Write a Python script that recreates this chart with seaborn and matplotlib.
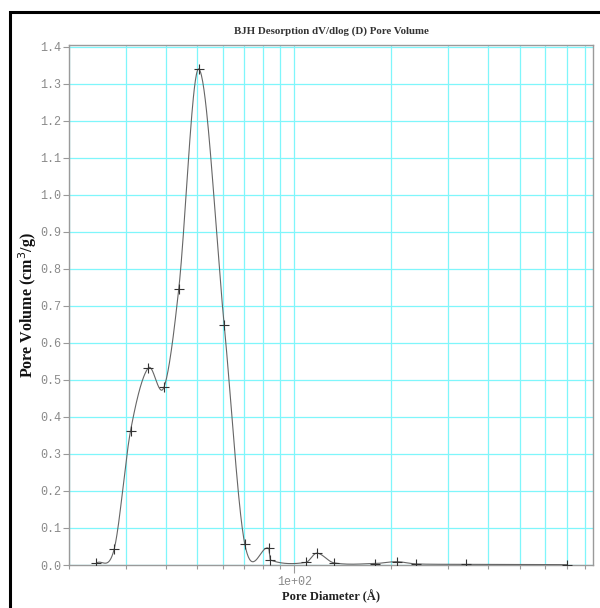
import numpy as np
import pandas as pd
import matplotlib
matplotlib.use("Agg")
import matplotlib.pyplot as plt
from matplotlib.ticker import LogLocator, FixedLocator, FuncFormatter, NullFormatter
from matplotlib.patches import Rectangle
import seaborn as sns

# pore diameter (A) and dV/dlog(D) pore volume (cm3/g)
pore_diameter = [24.3, 27.6, 31.05, 35.2, 39.4, 43.8, 50.6, 60.6, 70.2, 83.3,
                 84.3, 108.6, 117.5, 132.6, 177.8, 207.7, 238.4, 340.9, 702.0]
pore_volume = [0.005, 0.042, 0.363, 0.532, 0.480, 0.745, 1.340, 0.649, 0.057, 0.045,
               0.0135, 0.007, 0.032, 0.006, 0.004, 0.009, 0.003, 0.002, 0.001]

y_ticks = [0.0, 0.1, 0.2, 0.3, 0.4, 0.5, 0.6, 0.7, 0.8, 0.9, 1.0, 1.1, 1.2, 1.3, 1.4]

GRID_COLOR = "#7ff6fb"
AXIS_GRAY = "#9a9a9a"
LABEL_GRAY = "#8a8a8a"


def smooth_curve(x, y, n=40):
    # cubic hermite curve (catmull-rom style tangents) in log10(x)
    u = np.log10(np.asarray(x, dtype=float))
    y = np.asarray(y, dtype=float)
    m = np.empty_like(y)
    m[0] = (y[1] - y[0]) / (u[1] - u[0])
    m[-1] = (y[-1] - y[-2]) / (u[-1] - u[-2])
    m[1:-1] = (y[2:] - y[:-2]) / (u[2:] - u[:-2])
    us, ys = [], []
    for i in range(len(u) - 1):
        h = u[i + 1] - u[i]
        t = np.linspace(0, 1, n, endpoint=(i == len(u) - 2))
        h00 = 2 * t**3 - 3 * t**2 + 1
        h10 = t**3 - 2 * t**2 + t
        h01 = -2 * t**3 + 3 * t**2
        h11 = t**3 - t**2
        us.append(u[i] + t * h)
        ys.append(h00 * y[i] + h10 * h * m[i] + h01 * y[i + 1] + h11 * h * m[i + 1])
    return 10 ** np.concatenate(us), np.concatenate(ys)


df = pd.DataFrame({"Pore Diameter": pore_diameter, "Pore Volume": pore_volume})
cx, cy = smooth_curve(pore_diameter, pore_volume)
curve = pd.DataFrame({"Pore Diameter": cx, "Pore Volume": cy})

sns.set_style("white")
plt.rcParams["font.family"] = ["Liberation Serif", "DejaVu Serif"]

fig = plt.figure(figsize=(6.0, 6.08), dpi=100)
ax = fig.add_axes([69 / 600, 1 - 565 / 608, 524 / 600, 520 / 608])

sns.lineplot(data=curve, x="Pore Diameter", y="Pore Volume", ax=ax, sort=False,
             estimator=None, color="#666666", linewidth=0.8, zorder=3)
sns.scatterplot(data=df, x="Pore Diameter", y="Pore Volume", ax=ax, marker="+",
                s=45, color="#333333", linewidth=0.8, zorder=4)

ax.set_xscale("log")
ax.set_xlim(20, 845)
ax.set_ylim(0, 1.405)

# x axis: only 1e+02 labelled, minor lines for the rest
ax.xaxis.set_major_locator(LogLocator(base=10))
ax.xaxis.set_major_formatter(FuncFormatter(lambda v, p: "%.0e" % v))
ax.xaxis.set_minor_locator(LogLocator(base=10, subs=np.arange(2, 10)))
ax.xaxis.set_minor_formatter(NullFormatter())
ax.yaxis.set_major_locator(FixedLocator(y_ticks))
ax.yaxis.set_major_formatter(FuncFormatter(lambda v, p: "%.1f" % v))

ax.grid(True, which="major", axis="both", color=GRID_COLOR, linewidth=0.9, zorder=0)
ax.grid(True, which="minor", axis="x", color=GRID_COLOR, linewidth=0.9, zorder=0)
ax.set_axisbelow(True)

for s in ax.spines.values():
    s.set_color(AXIS_GRAY)
    s.set_linewidth(1.0)

ax.tick_params(axis="both", which="both", direction="out", color=AXIS_GRAY,
               labelcolor=LABEL_GRAY, bottom=True, left=True, width=0.8)
ax.tick_params(axis="y", which="major", length=4, pad=1.5)
ax.tick_params(axis="x", which="major", length=6, pad=2)
ax.tick_params(axis="x", which="minor", length=3)
for lbl in ax.get_xticklabels() + ax.get_yticklabels():
    lbl.set_fontfamily(["Liberation Mono", "DejaVu Sans Mono"])
    lbl.set_fontsize(8.5)

ax.set_xlabel("Pore Diameter (\u00c5)", fontsize=9, fontweight="bold", color="#222222")
ax.set_ylabel("Pore Volume (cm$^3$/g)", fontsize=11.5, fontweight="bold", color="#111111")
ax.xaxis.set_label_coords(0.5, -0.048)
ax.yaxis.set_label_coords(-0.058, 0.5)
ax.set_title("BJH Desorption dV/dlog (D) Pore Volume", fontsize=7.8,
             fontweight="bold", color="#333333", pad=8)

# outer page frame (left and top edges visible)
fig.add_artist(Rectangle((10 / 600, -0.05), 1.2, (608 - 12) / 608 + 0.05,
                         transform=fig.transFigure, fill=False, edgecolor="black",
                         linewidth=2.2))

fig.savefig("out.png", dpi=100)
